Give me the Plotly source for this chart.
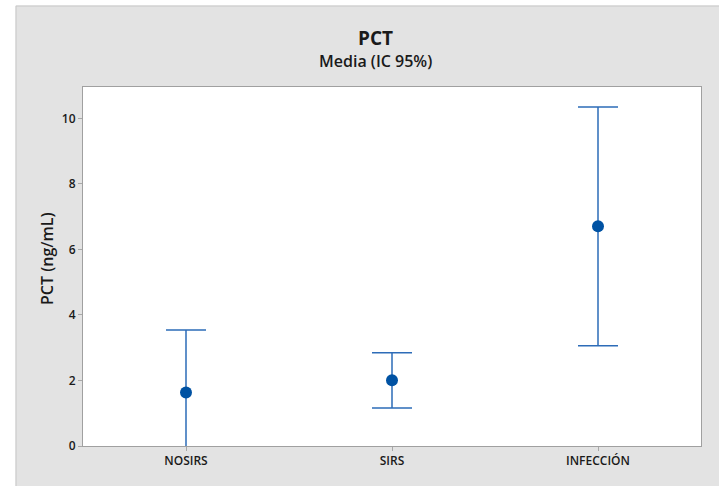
import plotly.graph_objects as go

# Group means of PCT with 95% confidence intervals
groups = ["NOSIRS", "SIRS", "INFECCIÓN"]
means = [1.63, 2.01, 6.71]
ci_low = [-0.28, 1.16, 3.06]
ci_high = [3.54, 2.85, 10.35]

y_ticks = [0, 2, 4, 6, 8, 10]

err_plus = [h - m for h, m in zip(ci_high, means)]
err_minus = [m - l for m, l in zip(means, ci_low)]

W, H = 719, 486
L, R, T, B = 83, 18, 87, 40
pw, ph = W - L - R, H - T - B


def px_x(x):
    return (x - L) / pw


def px_y(y):
    return (H - B - y) / ph


FONT = "Open Sans"
TXT = "#1a1a1a"
PANEL = "#e3e3e3"
EDGE = "#c8c8c8"

fig = go.Figure()
fig.add_trace(go.Scatter(
    x=groups,
    y=means,
    mode="markers",
    marker=dict(size=12, color="#0052a3"),
    error_y=dict(
        type="data",
        symmetric=False,
        array=err_plus,
        arrayminus=err_minus,
        color="#2d6cb8",
        thickness=1.5,
        width=20,
    ),
    showlegend=False,
))

# White page strips outside the gray panel, plus the panel's top/left edge
fig.add_shape(type="rect", xref="paper", yref="paper", layer="above",
              x0=px_x(-5), x1=px_x(15.5), y0=px_y(H + 5), y1=px_y(-5),
              fillcolor="white", line=dict(width=0))
fig.add_shape(type="rect", xref="paper", yref="paper", layer="above",
              x0=px_x(-5), x1=px_x(W + 5), y0=px_y(5.5), y1=px_y(-5),
              fillcolor="white", line=dict(width=0))
fig.add_shape(type="line", xref="paper", yref="paper", layer="above",
              x0=px_x(16), x1=px_x(W + 5), y0=px_y(6), y1=px_y(6),
              line=dict(color=EDGE, width=1))
fig.add_shape(type="line", xref="paper", yref="paper", layer="above",
              x0=px_x(16), x1=px_x(16), y0=px_y(6), y1=px_y(H + 5),
              line=dict(color=EDGE, width=1))

fig.add_annotation(
    text="<b>PCT</b>", xref="paper", yref="paper",
    x=px_x(375), y=px_y(38), xanchor="center", yanchor="middle",
    showarrow=False,
    font=dict(family=FONT, size=19, color=TXT),
)
fig.add_annotation(
    text="Media (IC 95%)", xref="paper", yref="paper",
    x=px_x(375), y=px_y(61), xanchor="center", yanchor="middle",
    showarrow=False,
    font=dict(family=FONT, size=16, color=TXT, weight=600),
)
fig.add_annotation(
    text="PCT (ng/mL)", xref="paper", yref="paper",
    x=px_x(47), y=px_y(259), xanchor="center", yanchor="middle",
    showarrow=False, textangle=-90,
    font=dict(family=FONT, size=16, color=TXT, weight=600),
)

fig.update_xaxes(
    type="category",
    range=[-0.5, 2.5],
    showgrid=False,
    zeroline=False,
    showline=True, linecolor="#a0a0a0", linewidth=1, mirror=True,
    ticks="outside", ticklen=4, tickcolor="#a8a8a8", tickwidth=1,
    tickfont=dict(family=FONT, size=12, color=TXT, weight=600),
)
fig.update_yaxes(
    range=[0, 10.96],
    tickvals=y_ticks,
    showgrid=False,
    zeroline=False,
    showline=True, linecolor="#a0a0a0", linewidth=1, mirror=True,
    ticks="outside", ticklen=4, tickcolor="#a8a8a8", tickwidth=1,
    tickfont=dict(family=FONT, size=12, color=TXT, weight=600),
)

fig.update_layout(
    width=W, height=H,
    margin=dict(l=L, r=R, t=T, b=B, pad=0),
    paper_bgcolor=PANEL,
    plot_bgcolor="white",
)

fig.write_html("out.html")
